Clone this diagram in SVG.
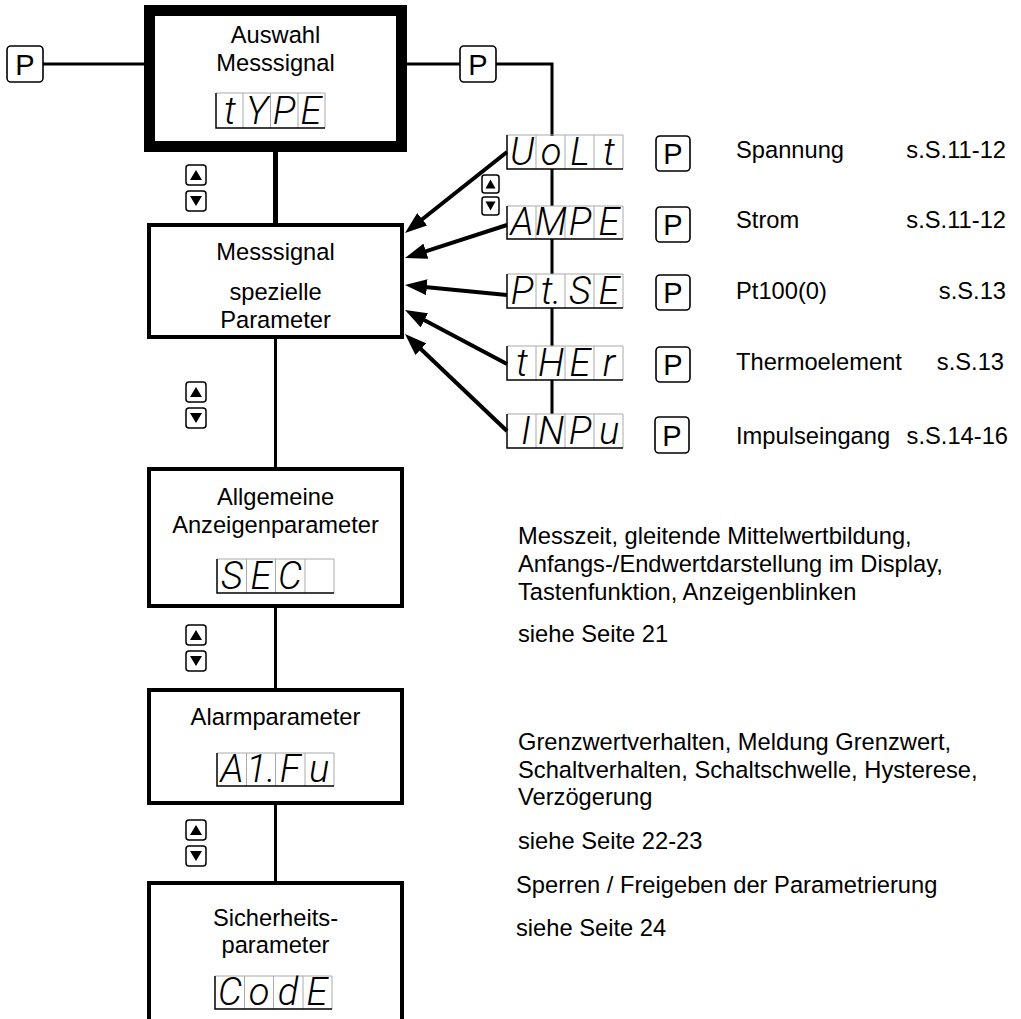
<svg xmlns="http://www.w3.org/2000/svg" width="1021" height="1019" viewBox="0 0 1021 1019">
<style>
.t{font-family:"Liberation Sans",Arial,sans-serif;font-size:23.7px;fill:#000}
.c{text-anchor:middle}
.e{text-anchor:end}
.box{fill:#fff;stroke:#000;stroke-width:4}
.pk{fill:#fff;stroke:#000;stroke-width:1.6}
.pl{font-family:"Liberation Sans",Arial,sans-serif;font-size:29px;text-anchor:middle;fill:#000}
.ub{fill:#fff;stroke:#000;stroke-width:1.5}
.dg{fill:none;stroke:#aaa;stroke-width:1}
.db{fill:none;stroke:#000;stroke-width:1.5}
.seg{font-family:Roboto,"DejaVu Sans",sans-serif;font-style:italic;font-weight:300;font-size:38px;text-anchor:middle;fill:#000}
.ln{fill:none;stroke:#000;stroke-width:3}
.ar{fill:none;stroke:#000;stroke-width:4}
</style>
<defs>
<marker id="ah" markerUnits="userSpaceOnUse" markerWidth="22" markerHeight="16" refX="10" refY="8" orient="auto">
<path d="M0,0 L22,8 L0,16 z" fill="#000"/>
</marker>
<g id="updn">
<rect class="ub" x="0" y="0" width="20" height="20" rx="3"/>
<path d="M4,15 L10,5 L16,15 z" fill="#000"/>
<rect class="ub" x="0" y="26" width="20" height="20" rx="3"/>
<path d="M4,31 L10,41 L16,31 z" fill="#000"/>
</g>
<g id="updnS">
<rect class="ub" x="0" y="0" width="17" height="18" rx="2.5"/>
<path d="M3.5,13.5 L8.5,4.5 L13.5,13.5 z" fill="#000"/>
<rect class="ub" x="0" y="22" width="17" height="18" rx="2.5"/>
<path d="M3.5,26.5 L8.5,35.5 L13.5,26.5 z" fill="#000"/>
</g>
</defs>

<g id="connectors">
<path class="ln" d="M43,64 H145"/>
<path class="ln" d="M406,64 H460"/>
<path class="ln" d="M496,64 H552 V136"/>
<path d="M275.5,152 V224" stroke="#000" stroke-width="5" fill="none"/>
<path class="ln" d="M275.5,339 V468" stroke-width="4"/>
<path class="ln" d="M275.5,608 V689" stroke-width="4"/>
<path class="ln" d="M275.5,805 V882" stroke-width="4"/>
<path class="ln" d="M552,169 V206 M552,239 V274 M552,308 V346 M552,380 V414" stroke-width="4"/>
<line class="ar" x1="507" y1="152" x2="414.4" y2="225.5" marker-end="url(#ah)"/>
<line class="ar" x1="507" y1="225" x2="416.4" y2="254.3" marker-end="url(#ah)"/>
<line class="ar" x1="507" y1="295" x2="416.9" y2="286.2" marker-end="url(#ah)"/>
<line class="ar" x1="507" y1="364" x2="415.6" y2="315.6" marker-end="url(#ah)"/>
<line class="ar" x1="507" y1="431" x2="413.7" y2="342.3" marker-end="url(#ah)"/>
</g>

<g id="p-left"><rect class="pk" x="7" y="46" width="36" height="36" rx="4"/><text class="pl" x="25" y="74.5">P</text></g>
<g id="p-right"><rect class="pk" x="460" y="46" width="36" height="36" rx="4"/><text class="pl" x="478" y="74.5">P</text></g>

<g id="node-type">
<rect x="149.5" y="10.5" width="252" height="136" fill="#fff" stroke="#000" stroke-width="11"/>
<text class="t c" x="275.5" y="43">Auswahl</text>
<text class="t c" x="275.5" y="71">Messsignal</text>
<path class="dg" d="M216,93 H325 V128 M243,93 V128 M270.5,93 V128 M298,93 V128"/>
<path class="db" d="M216,93 V128 H325"/>
<text class="seg" y="124"><tspan x="230">t</tspan><tspan x="257">Y</tspan><tspan x="284">P</tspan><tspan x="311">E</tspan></text>
</g>
<use href="#updn" x="186" y="165"/>

<g id="node-messsignal">
<rect class="box" x="149" y="225" width="253" height="112"/>
<text class="t c" x="275.5" y="260">Messsignal</text>
<text class="t c" x="275.5" y="300">spezielle</text>
<text class="t c" x="275.5" y="328">Parameter</text>
</g>
<use href="#updn" x="186" y="382"/>

<g id="node-sec">
<rect class="box" x="149" y="469" width="253" height="137"/>
<text class="t c" x="275.5" y="505">Allgemeine</text>
<text class="t c" x="275.5" y="533">Anzeigenparameter</text>
<path class="dg" d="M217,559 H334 V593 M246.5,559 V593 M275.5,559 V593 M305,559 V593"/>
<path class="db" d="M217,559 V593 H334"/>
<text class="seg" y="589"><tspan x="232">S</tspan><tspan x="261">E</tspan><tspan x="290">C</tspan></text>
</g>
<use href="#updn" x="186" y="625"/>

<g id="node-alarm">
<rect class="box" x="149" y="690" width="253" height="113"/>
<text class="t c" x="275.5" y="725">Alarmparameter</text>
<path class="dg" d="M217,753 H334 V786 M246.5,753 V786 M275.5,753 V786 M305,753 V786"/>
<path class="db" d="M217,753 V786 H334"/>
<text class="seg" y="782"><tspan x="232">A</tspan><tspan x="261">1.</tspan><tspan x="290">F</tspan><tspan x="319">u</tspan></text>
</g>
<use href="#updn" x="186" y="820"/>

<g id="node-code">
<rect class="box" x="149" y="883" width="253" height="200"/>
<text class="t c" x="275.5" y="926">Sicherheits-</text>
<text class="t c" x="275.5" y="953">parameter</text>
<path class="dg" d="M215,976 H332 V1009 M244.5,976 V1009 M273.5,976 V1009 M303,976 V1009"/>
<path class="db" d="M215,976 V1009 H332"/>
<text class="seg" y="1005"><tspan x="230">C</tspan><tspan x="259">o</tspan><tspan x="288">d</tspan><tspan x="317">E</tspan></text>
</g>

<use href="#updnS" x="482" y="175"/>

<g id="node-volt">
<path class="dg" d="M507,135 H623 V169 M536,135 V169 M565,135 V169 M594,135 V169"/>
<path class="db" d="M507,135 V169 H623"/>
<text class="seg" y="165"><tspan x="522">U</tspan><tspan x="551">o</tspan><tspan x="580">L</tspan><tspan x="609">t</tspan></text>
<rect class="pk" x="656" y="136" width="34" height="35" rx="4"/><text class="pl" x="673" y="164">P</text>
<text class="t" x="736" y="158">Spannung</text>
<text class="t e" x="1006" y="158">s.S.11-12</text>
</g>
<g id="node-ampe">
<path class="dg" d="M507,206 H623 V239 M536,206 V239 M565,206 V239 M594,206 V239"/>
<path class="db" d="M507,206 V239 H623"/>
<text class="seg" y="235"><tspan x="522">A</tspan><tspan x="551">M</tspan><tspan x="580">P</tspan><tspan x="609">E</tspan></text>
<rect class="pk" x="656" y="207" width="34" height="35" rx="4"/><text class="pl" x="673" y="235">P</text>
<text class="t" x="736" y="228">Strom</text>
<text class="t e" x="1006" y="228">s.S.11-12</text>
</g>
<g id="node-ptse">
<path class="dg" d="M507,274 H623 V308 M536,274 V308 M565,274 V308 M594,274 V308"/>
<path class="db" d="M507,274 V308 H623"/>
<text class="seg" y="304"><tspan x="522">P</tspan><tspan x="551">t.</tspan><tspan x="580">S</tspan><tspan x="609">E</tspan></text>
<rect class="pk" x="656" y="275" width="34" height="35" rx="4"/><text class="pl" x="673" y="303">P</text>
<text class="t" x="736" y="299">Pt100(0)</text>
<text class="t e" x="1006" y="299">s.S.13</text>
</g>
<g id="node-ther">
<path class="dg" d="M507,346 H623 V380 M536,346 V380 M565,346 V380 M594,346 V380"/>
<path class="db" d="M507,346 V380 H623"/>
<text class="seg" y="376"><tspan x="522">t</tspan><tspan x="551">H</tspan><tspan x="580">E</tspan><tspan x="609">r</tspan></text>
<rect class="pk" x="656" y="347" width="34" height="35" rx="4"/><text class="pl" x="673" y="375">P</text>
<text class="t" x="736" y="370">Thermoelement</text>
<text class="t e" x="1004" y="370">s.S.13</text>
</g>
<g id="node-inpu">
<path class="dg" d="M507,414 H623 V448 M536,414 V448 M565,414 V448 M594,414 V448"/>
<path class="db" d="M507,414 V448 H623"/>
<text class="seg" y="444"><tspan x="526">I</tspan><tspan x="551">N</tspan><tspan x="580">P</tspan><tspan x="609">u</tspan></text>
<rect class="pk" x="655" y="417" width="34" height="36" rx="4"/><text class="pl" x="672" y="446">P</text>
<text class="t" x="736" y="444">Impulseingang</text>
<text class="t e" x="1008" y="444">s.S.14-16</text>
</g>

<g id="desc-sec">
<text class="t" x="518" y="544">Messzeit, gleitende Mittelwertbildung,</text>
<text class="t" x="518" y="572">Anfangs-/Endwertdarstellung im Display,</text>
<text class="t" x="518" y="600">Tastenfunktion, Anzeigenblinken</text>
<text class="t" x="518" y="642">siehe Seite 21</text>
</g>
<g id="desc-alarm">
<text class="t" x="518" y="750">Grenzwertverhalten, Meldung Grenzwert,</text>
<text class="t" x="518" y="778">Schaltverhalten, Schaltschwelle, Hysterese,</text>
<text class="t" x="518" y="805">Verzögerung</text>
<text class="t" x="518" y="849">siehe Seite 22-23</text>
</g>
<g id="desc-code">
<text class="t" x="516" y="893">Sperren / Freigeben der Parametrierung</text>
<text class="t" x="516" y="936">siehe Seite 24</text>
</g>
</svg>
